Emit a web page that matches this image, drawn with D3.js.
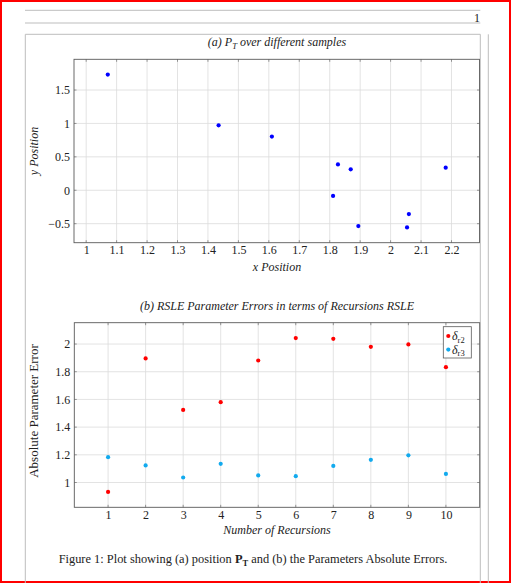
<!DOCTYPE html>
<html>
<head>
<meta charset="utf-8">
<script src="https://cdn.jsdelivr.net/npm/d3@7"></script>
<style>
body { margin: 0; background: #fff; }
svg { display: block; }
text { font-family: "Liberation Serif", serif; fill: #222; }
</style>
</head>
<body>
<svg></svg>
<script>
/* Data */

// (a) positions P_T
var posX = [1.071, 1.435, 1.610, 1.827, 1.869, 1.811, 1.894, 2.060, 2.054, 2.181];
var posY = [1.731, 0.972, 0.804, 0.387, 0.313, -0.085, -0.536, -0.357, -0.556, 0.338];
var xTicksA = [1, 1.1, 1.2, 1.3, 1.4, 1.5, 1.6, 1.7, 1.8, 1.9, 2, 2.1, 2.2];
var yTicksA = [-0.5, 0, 0.5, 1, 1.5];

// (b) parameter errors per recursion
var recursions = [1, 2, 3, 4, 5, 6, 7, 8, 9, 10];
var deltaR2 = [0.932, 1.896, 1.524, 1.580, 1.881, 2.043, 2.038, 1.980, 1.997, 1.833];
var deltaR3 = [1.183, 1.123, 1.036, 1.135, 1.051, 1.046, 1.120, 1.164, 1.196, 1.062];
var seriesNames = ["r2", "r3"];
var xTicksB = [1, 2, 3, 4, 5, 6, 7, 8, 9, 10];
var yTicksB = [1, 1.2, 1.4, 1.6, 1.8, 2];

/* Variables */
var options = {
    width: 511,
    height: 583,
    gridColor: '#dcdcdc',
    axisColor: '#5a5a5a',
    pageLine: '#bdbdbd',
    blue: '#0000ff',
    red: '#ff0000',
    cyan: '#12aaee',
    tickFont: 12,
    labelFont: 12,
    dot: 2.1
};

var svg = d3.select("svg")
    .attr("width", options.width)
    .attr("height", options.height);

/* Logic */

drawPage();

var panelA = drawPanel({
    left: 74, right: 479.5, top: 59.3, bottom: 242.7,
    xDomain: enlarge(posX), yDomain: enlarge(posY),
    xTicks: xTicksA, yTicks: yTicksA
});
panelA.g.selectAll("circle.pa")
    .data(posX.map(function(x, i){ return [x, posY[i]]; }))
    .enter().append("circle")
    .attr("cx", function(d){ return panelA.x(d[0]); })
    .attr("cy", function(d){ return panelA.y(d[1]); })
    .attr("r", options.dot)
    .style("fill", options.blue);

var panelB = drawPanel({
    left: 74.3, right: 479.7, top: 322.7, bottom: 507.3,
    xDomain: enlarge(recursions), yDomain: enlarge(deltaR2.concat(deltaR3)),
    xTicks: xTicksB, yTicks: yTicksB
});
[[deltaR2, options.red], [deltaR3, options.cyan]].forEach(function(s){
    panelB.g.append("g").selectAll("circle")
        .data(s[0])
        .enter().append("circle")
        .attr("cx", function(d, i){ return panelB.x(recursions[i]); })
        .attr("cy", function(d){ return panelB.y(d); })
        .attr("r", options.dot)
        .style("fill", s[1]);
});

// titles and labels
var tA = svg.append("text").attr("x", 277).attr("y", 46)
    .attr("text-anchor", "middle").style("font-size", "12px").style("font-style", "italic");
tA.append("tspan").text("(a) P");
tA.append("tspan").attr("dy", 2.5).style("font-size", "8.5px").text("T");
tA.append("tspan").attr("dy", -2.5).text(" over different samples");

svg.append("text").attr("x", 277).attr("y", 310)
    .attr("text-anchor", "middle").style("font-size", "12px").style("font-style", "italic")
    .text("(b) RSLE Parameter Errors in terms of Recursions RSLE");

svg.append("text").attr("x", 277).attr("y", 270.5)
    .attr("text-anchor", "middle").style("font-size", "12px").style("font-style", "italic")
    .text("x Position");
svg.append("text").attr("x", 277).attr("y", 534)
    .attr("text-anchor", "middle").style("font-size", "12px").style("font-style", "italic")
    .text("Number of Recursions");

svg.append("text").attr("transform", "translate(38,151) rotate(-90)")
    .attr("text-anchor", "middle").style("font-size", "12px").style("font-style", "italic")
    .text("y Position");
svg.append("text").attr("transform", "translate(38,411) rotate(-90)")
    .attr("text-anchor", "middle").style("font-size", "13px")
    .text("Absolute Parameter Error");

// legend
var leg = svg.append("g");
leg.append("rect").attr("x", 443.3).attr("y", 326.7).attr("width", 28).attr("height", 31.3)
    .style("fill", "#fff").style("stroke", options.axisColor).style("stroke-width", 0.8);
seriesNames.forEach(function(name, i){
    var yy = 336 + i * 13.6;
    leg.append("circle").attr("cx", 448.3).attr("cy", yy).attr("r", options.dot)
        .style("fill", i === 0 ? options.red : options.cyan);
    var t = leg.append("text").attr("x", 452).attr("y", yy + 4).style("font-size", "12px");
    t.append("tspan").style("font-style", "italic").text("\u03b4");
    t.append("tspan").attr("dy", 2.5).style("font-size", "8.5px").text(name);
});

// caption
var cap = svg.append("text").attr("x", 253).attr("y", 563)
    .attr("text-anchor", "middle").style("font-size", "12.4px");
cap.append("tspan").text("Figure 1: Plot showing (a) position ");
cap.append("tspan").style("font-weight", "bold").text("P");
cap.append("tspan").attr("dy", 2.5).style("font-weight", "bold").style("font-size", "8.5px").text("T");
cap.append("tspan").attr("dy", -2.5).text(" and (b) the Parameters Absolute Errors.");


/* Functions */

// pgfplots style 10% enlarged limits
function enlarge(values){
    var ext = d3.extent(values);
    var pad = (ext[1] - ext[0]) * 0.1;
    return [ext[0] - pad, ext[1] + pad];
}

function fmt(d){
    var s = String(+Math.abs(d).toFixed(2));
    return (d < 0 ? "\u2212" : "") + s;
}

function drawPage(){
    svg.append("rect").attr("x", 1).attr("y", 1)
        .attr("width", options.width - 2).attr("height", options.height - 2)
        .style("fill", "none").style("stroke", "#ff0000").style("stroke-width", 2);
    [10.3, 23].forEach(function(y){
        svg.append("line").attr("x1", 25).attr("x2", 480.3).attr("y1", y).attr("y2", y)
            .style("stroke", options.pageLine).style("stroke-width", 1);
    });
    svg.append("text").attr("x", 480).attr("y", 21.5).attr("text-anchor", "end")
        .style("font-size", "12px").text("1");
    svg.append("path")
        .attr("d", "M25.3," + options.height + "V34.3H480.3V" + options.height)
        .style("fill", "none").style("stroke", options.pageLine).style("stroke-width", 1);
    svg.append("line").attr("x1", 488.3).attr("x2", 488.3).attr("y1", 34.3).attr("y2", options.height)
        .style("stroke", options.pageLine).style("stroke-width", 1);
}

function drawPanel(c){
    var x = d3.scaleLinear().domain(c.xDomain).range([c.left, c.right]);
    var y = d3.scaleLinear().domain(c.yDomain).range([c.bottom, c.top]);
    var g = svg.append("g");

    // grid
    g.selectAll("line.gx").data(c.xTicks).enter().append("line")
        .attr("x1", x).attr("x2", x).attr("y1", c.top).attr("y2", c.bottom)
        .style("stroke", options.gridColor).style("stroke-width", 0.8);
    g.selectAll("line.gy").data(c.yTicks).enter().append("line")
        .attr("y1", y).attr("y2", y).attr("x1", c.left).attr("x2", c.right)
        .style("stroke", options.gridColor).style("stroke-width", 0.8);

    // axes with labels, no domain line
    var ax = g.append("g").attr("transform", "translate(0," + c.bottom + ")")
        .call(d3.axisBottom(x).tickValues(c.xTicks).tickFormat(fmt).tickSize(0).tickPadding(3));
    var ay = g.append("g").attr("transform", "translate(" + c.left + ",0)")
        .call(d3.axisLeft(y).tickValues(c.yTicks).tickFormat(fmt).tickSize(0).tickPadding(4));
    [ax, ay].forEach(function(a){
        a.select(".domain").remove();
        a.selectAll("text").style("font-size", options.tickFont + "px")
            .style("font-family", "'Liberation Serif', serif").style("fill", "#222");
    });

    // inward ticks, mirrored
    var tl = 2.5;
    c.xTicks.forEach(function(t){
        g.append("line").attr("x1", x(t)).attr("x2", x(t)).attr("y1", c.bottom).attr("y2", c.bottom - tl)
            .style("stroke", options.axisColor).style("stroke-width", 0.6);
        g.append("line").attr("x1", x(t)).attr("x2", x(t)).attr("y1", c.top).attr("y2", c.top + tl)
            .style("stroke", options.axisColor).style("stroke-width", 0.6);
    });
    c.yTicks.forEach(function(t){
        g.append("line").attr("y1", y(t)).attr("y2", y(t)).attr("x1", c.left).attr("x2", c.left + tl)
            .style("stroke", options.axisColor).style("stroke-width", 0.6);
        g.append("line").attr("y1", y(t)).attr("y2", y(t)).attr("x1", c.right).attr("x2", c.right - tl)
            .style("stroke", options.axisColor).style("stroke-width", 0.6);
    });

    g.append("rect").attr("x", c.left).attr("y", c.top)
        .attr("width", c.right - c.left).attr("height", c.bottom - c.top)
        .style("fill", "none").style("stroke", options.axisColor).style("stroke-width", 0.9);

    return { x: x, y: y, g: g };
}
</script>
</body>
</html>
